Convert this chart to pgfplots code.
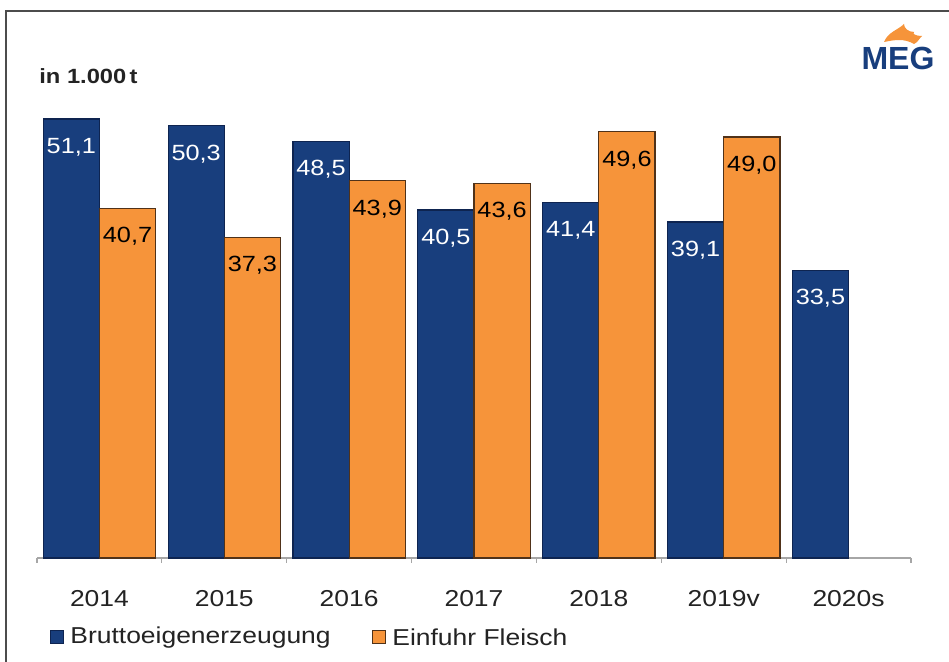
\documentclass[border=0pt]{standalone}
\usepackage{fontspec}
\setmainfont{Liberation Sans}[FakeStretch=1.15]
\newfontfamily\logofont{Liberation Sans}
\usepackage{pgfplots}
\pgfplotsset{compat=1.18}
\definecolor{megblue}{RGB}{24,62,125}
\definecolor{megblueedge}{RGB}{14,36,80}
\definecolor{megorange}{RGB}{246,148,58}
\definecolor{megorangeedge}{RGB}{80,50,25}
\definecolor{txt}{RGB}{35,35,35}
\pgfplotstableread{
x y
0 51.1
1 50.3
2 48.5
3 40.5
4 41.4
5 39.1
6 33.5
}\brutto
\pgfplotstableread{
x y
0 40.7
1 37.3
2 43.9
3 43.6
4 49.6
5 49.0
}\einfuhr
\begin{document}
\begin{tikzpicture}
\useasboundingbox (0,0) rectangle (474.5pt,-331pt);
\fill[white] (0,0) rectangle (474.5pt,-331pt);
\draw[gray!60!black, line width=0.8pt] (3pt,-331pt) -- (3pt,-5.5pt) -- (474.5pt,-5.5pt);
\node[anchor=west, font=\bfseries\fontsize{10.3}{12}\selectfont, text=txt, inner sep=0pt] at (19.5pt,-38pt) {in 1.000\,t};
% logo
\node[anchor=center, font=\logofont\bfseries\fontsize{16}{18}\selectfont, text=megblue, inner sep=0pt] at (449pt,-29pt) {MEG};
\fill[megorange] (442pt,-21pt) .. controls (444pt,-16pt) and (449pt,-15pt) .. (452pt,-12pt)
  .. controls (452pt,-14pt) and (454pt,-16pt) .. (457pt,-16pt)
  .. controls (456pt,-17pt) and (458pt,-18pt) .. (461pt,-18pt)
  .. controls (459pt,-20pt) and (459pt,-21pt) .. (457pt,-22pt)
  .. controls (452pt,-19pt) and (447pt,-20pt) .. (442pt,-21pt)
  -- cycle;
\begin{axis}[
  at={(18.5pt,-279pt)}, anchor=south west,
  scale only axis, width=437pt, height=229pt,
  ymin=0, ymax=53.3, xmin=-0.5, xmax=6.5,
  axis y line=none, axis x line*=bottom,
  x axis line style={draw=gray!70, line width=0.8pt, -},
  xtick={0,...,6}, xticklabels={2014,2015,2016,2017,2018,2019v,2020s},
  major x tick style={draw=none},
  minor xtick={-0.5,0.5,1.5,2.5,3.5,4.5,5.5,6.5},
  minor x tick style={draw=gray!70, line width=0.6pt},
  minor tick length=2.5pt, tick align=outside,
  xticklabel style={anchor=center, yshift=-16pt, font=\fontsize{11.5}{13}\selectfont, text=txt},
  clip=false,
  nodes near coords={\pgfmathprintnumber[fixed,fixed zerofill,precision=1,use comma,assume math mode=true]{\pgfplotspointmeta}},
  nodes near coords style={anchor=center, yshift=-14pt, font=\fontsize{11}{13}\selectfont},
]
\addplot[ybar, bar width=0.45, bar shift=-0.225, fill=megblue, draw=megblueedge, line width=0.6pt,
  nodes near coords style={text=white, xshift=-14.05pt}] table[x=x,y=y] {\brutto};
\addplot[ybar, bar width=0.45, bar shift=0.225, fill=megorange, draw=megorangeedge, line width=0.6pt,
  nodes near coords style={text=black, xshift=14.05pt}] table[x=x,y=y] {\einfuhr};
\end{axis}
% legend
\fill[megblue, draw=megblueedge, line width=0.5pt] (25pt,-315.5pt) rectangle (31.5pt,-322pt);
\node[anchor=west, inner sep=0pt, font=\fontsize{11.5}{13}\selectfont, text=txt] at (35pt,-318.7pt) {Bruttoeigenerzeugung};
\fill[megorange, draw=megorangeedge, line width=0.5pt] (186pt,-315.5pt) rectangle (192.5pt,-322pt);
\node[anchor=west, inner sep=0pt, font=\fontsize{11.5}{13}\selectfont, text=txt] at (196pt,-318.7pt) {Einfuhr Fleisch};
\end{tikzpicture}
\end{document}
